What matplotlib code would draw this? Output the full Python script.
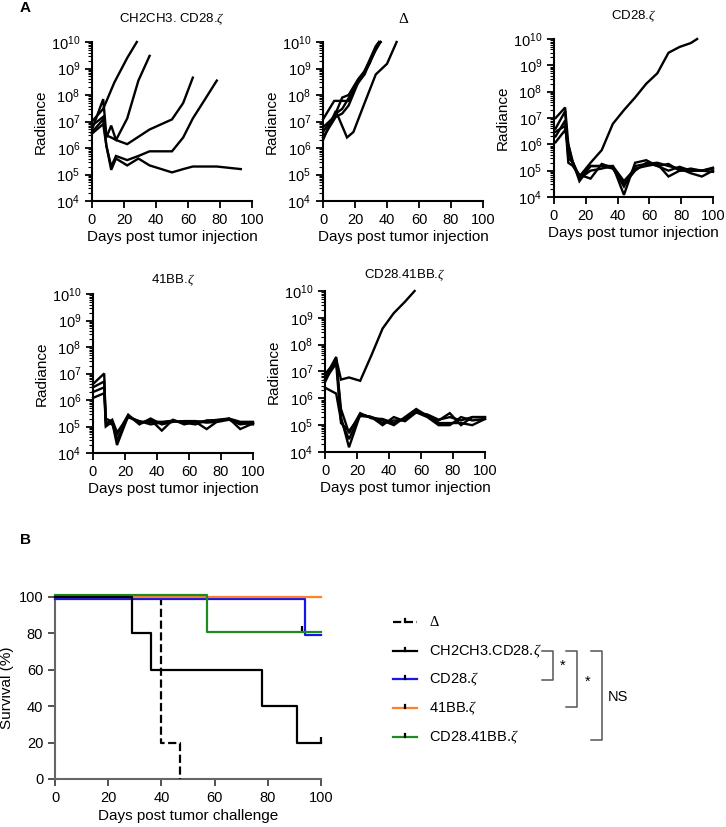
import numpy as np
import matplotlib
matplotlib.use("Agg")
import matplotlib.pyplot as plt
from matplotlib.ticker import NullFormatter

plt.rcParams['font.family'] = ['Liberation Sans', 'DejaVu Sans']
plt.rcParams['mathtext.fontset'] = 'custom'
plt.rcParams['mathtext.rm'] = 'Liberation Sans'
plt.rcParams['mathtext.it'] = 'Liberation Serif:italic'

# ---- panel A data: (days, radiance) per mouse ----
ch2_curves = [
    ([0, 7, 14, 22, 28], [1e7, 3e7, 3e8, 2.5e9, 1e10]),
    ([0, 7, 9, 12, 15, 22, 29, 36], [5e6, 7e7, 3e6, 2.5e6, 2e6, 1.3e7, 3.5e8, 3e9]),
    ([0, 7, 9, 12, 15, 22, 36, 50, 57, 63], [4e6, 1.2e7, 2.5e6, 7e6, 2e6, 1.4e6, 5e6, 1.2e7, 5e7, 4.5e8]),
    ([0, 7, 9, 12, 15, 22, 29, 36, 50, 57, 63, 70, 78],
     [7e6, 1.5e7, 1.2e6, 2e5, 5e5, 3.5e5, 5e5, 7.5e5, 7.5e5, 2.5e6, 1.3e7, 6e7, 3.5e8]),
    ([0, 7, 9, 12, 15, 22, 29, 36, 50, 57, 63, 78, 93],
     [3.5e6, 8e6, 1.2e6, 1.5e5, 4e5, 2.2e5, 4e5, 2.2e5, 1.2e5, 1.6e5, 2e5, 2e5, 1.6e5]),
]

delta_curves = [
    ([0, 7, 12, 16, 20, 26, 33, 35], [1.2e7, 6e7, 6e7, 6e7, 2e8, 8e8, 7e9, 1e10]),
    ([0, 7, 12, 16, 22, 26, 33, 36], [6e6, 1.5e7, 8e7, 1e8, 4e8, 8e8, 5e9, 1e10]),
    ([0, 8, 12, 15, 20, 26, 34, 36], [4e6, 2e7, 3e7, 6e7, 2e8, 6e8, 8e9, 1e10]),
    ([0, 8, 12, 16, 22, 29, 35], [2.5e6, 1.5e7, 2e7, 4e7, 3e8, 1.5e9, 1e10]),
    ([0, 8, 15, 19, 26, 33, 40, 46], [2e6, 2.5e7, 2.5e6, 4e6, 5e7, 6e8, 1.5e9, 1e10]),
]

cd28_days = [1, 7, 9, 12, 16, 23, 30, 37, 44, 51, 58, 65, 72, 79, 86, 93, 100]
cd28_curves = [
    (cd28_days[:15] + [90], [1e7, 2.5e7, 1e6, 2e5, 6e4, 2e5, 6e5, 6e6, 2e7, 6e7, 2e8, 5e8, 3e9, 5e9, 7e9, 1e10]),
    (cd28_days, [4e6, 1.8e7, 3e5, 2e5, 4e4, 1.5e5, 1.5e5, 1.5e5, 1.2e4, 2e5, 2.5e5, 1.5e5, 1.8e5, 1e5, 1e5, 1e5, 1.3e5]),
    (cd28_days, [2e6, 8e6, 2e5, 1.5e5, 7e4, 5e4, 1.8e5, 1.3e5, 2.5e4, 1.5e5, 1.8e5, 2e5, 1.5e5, 1.2e5, 8e4, 6e4, 1e5]),
    (cd28_days, [3e6, 5e6, 5e5, 2e5, 5e4, 1e5, 1.2e5, 1.5e5, 4e4, 1.2e5, 1.5e5, 1.8e5, 6e4, 1e5, 1.2e5, 1e5, 9e4]),
    (cd28_days, [1.2e6, 3.5e6, 1e6, 1.5e5, 6e4, 1.5e5, 1.5e5, 1.2e5, 3e4, 1e5, 2e5, 1.5e5, 1e5, 1.4e5, 1e5, 1e5, 1.2e5]),
]

bb_days = [0, 7, 8, 12, 15, 22, 29, 36, 43, 50, 57, 64, 71, 78, 85, 92, 100]
bb_curves = [
    (bb_days, [4e6, 1e7, 1e5, 1.5e5, 2e4, 2.5e5, 1.3e5, 1.8e5, 7e4, 1.8e5, 1.2e5, 1.5e5, 8e4, 1.6e5, 2e5, 8e4, 1.3e5]),
    (bb_days, [3e6, 5e6, 2e5, 1.5e5, 3e4, 2.5e5, 1.5e5, 1.5e5, 1.5e5, 1.6e5, 1.5e5, 1.5e5, 1.6e5, 1.8e5, 2e5, 1.5e5, 1.5e5]),
    (bb_days, [2e6, 3e6, 1.5e5, 1.2e5, 5e4, 2.8e5, 1.2e5, 2e5, 1.2e5, 1.5e5, 1.6e5, 1.6e5, 1.4e5, 1.5e5, 1.8e5, 1.2e5, 1.4e5]),
    (bb_days, [1.2e6, 1.8e6, 1.2e5, 1.8e5, 6e4, 2.2e5, 1.6e5, 1.2e5, 1.4e5, 1.7e5, 1.4e5, 1.2e5, 1.7e5, 1.7e5, 1.9e5, 1.4e5, 1.2e5]),
]

cdbb_days = [0, 7, 10, 15, 22, 29, 36, 43, 50, 57, 64, 71, 78, 85, 92, 100]
cdbb_curves = [
    ([0, 7, 10, 15, 22, 29, 36, 43, 50, 56], [4e6, 3e7, 5e6, 6e6, 4.5e6, 4e7, 4e8, 1.5e9, 4e9, 1e10]),
    (cdbb_days, [2.5e6, 1.5e6, 1.5e5, 3e4, 2.5e5, 2e5, 1.2e5, 1.5e5, 1.5e5, 3.5e5, 2.2e5, 1.2e5, 1.2e5, 1.2e5, 1e5, 1.7e5]),
    (cdbb_days, [6e6, 3.5e7, 2e5, 1.5e4, 2.5e5, 2e5, 1.5e5, 1e5, 2e5, 4e5, 2.2e5, 1.5e5, 2.8e5, 1e5, 2e5, 2e5]),
    (cdbb_days, [8e6, 2.5e7, 4e5, 5e4, 2.8e5, 1.8e5, 1.7e5, 1.2e5, 1.8e5, 3e5, 2.5e5, 1.6e5, 2e5, 1.5e5, 2e5, 2e5]),
    (cdbb_days, [5e6, 2e7, 1.2e5, 6e4, 2.2e5, 2e5, 1e5, 2e5, 1.4e5, 3e5, 2e5, 1e5, 1e5, 2e5, 1.5e5, 1.7e5]),
]

# ---- panel B data: Kaplan-Meier steps ----
surv_names = ['Δ', 'CH2CH3.CD28.$\\zeta$', 'CD28.$\\zeta$', '41BB.$\\zeta$', 'CD28.41BB.$\\zeta$']
surv_t = [[0, 40, 47], [0, 29, 36, 78, 91, 100], [0, 94, 100], [0, 100], [0, 57, 100]]
surv_s = [[100, 20, 0], [100, 80, 60, 40, 20, 20], [100, 80, 80], [100, 100], [100, 80, 80]]
censor_t = [[], [100], [], [], [93]]
censor_s = [[], [20], [], [], [80]]

surv_colors = ['black', 'black', '#1515f0', '#ff7f2a', '#1f8a1f']
surv_styles = ['--', '-', '-', '-', '-']
surv_nudge = [0, 0, -1, 0, 1]

fig = plt.figure(figsize=(7.26, 8.27), dpi=100)
W, H = 726, 827

major_y = [1e4, 1e5, 1e6, 1e7, 1e8, 1e9, 1e10]
minor_y = [m * 10.0 ** e for e in range(4, 10) for m in range(2, 10)]


def px_axes(l, t, r, b):
    return fig.add_axes([l / W, 1 - b / H, (r - l) / W, (b - t) / H])


def style_a(ax, title, pad, tfam=None):
    ax.set_yscale('log')
    ax.set_ylim(1e4, 1e10)
    ax.set_xlim(0, 100)
    ax.set_xticks([0, 20, 40, 60, 80, 100])
    ax.set_yticks(major_y)
    ax.set_yticks(minor_y, minor=True)
    ax.yaxis.set_minor_formatter(NullFormatter())
    for s in ['top', 'right']:
        ax.spines[s].set_visible(False)
    for s in ['left', 'bottom']:
        ax.spines[s].set_linewidth(1.5)
    ax.tick_params(which='major', length=5, width=1.3, labelsize=10.5, direction='out')
    ax.tick_params(axis='y', which='minor', length=3, width=0.8, left=True)
    ax.set_ylabel('Radiance', fontsize=11, labelpad=2)
    ax.set_xlabel('Days post tumor injection', fontsize=11, labelpad=2)
    if tfam:
        ax.set_title(title, fontsize=11, pad=pad, family=tfam)
    else:
        ax.set_title(title, fontsize=9.5, pad=pad)


panels = [
    ((92, 42, 252, 201), ch2_curves, 'CH2CH3. CD28.$\\zeta$', 14, None),
    ((323, 42, 483, 201), delta_curves, 'Δ', 14, 'Liberation Serif'),
    ((554, 39, 713, 197), cd28_curves, 'CD28.$\\zeta$', 14, None),
    ((93, 294, 253, 453), bb_curves, '41BB.$\\zeta$', 8, None),
    ((325, 291, 485, 452), cdbb_curves, 'CD28.41BB.$\\zeta$', 9, None),
]
for box, curves, title, pad, tfam in panels:
    ax = px_axes(*box)
    for d, v in curves:
        ax.plot(d, v, color='black', lw=1.7, solid_joinstyle='miter', clip_on=False)
    style_a(ax, title, pad, tfam)

# ---- panel B ----
axb = px_axes(55, 597, 321, 779)
for i in range(len(surv_t)):
    ys = np.array(surv_s[i]) + surv_nudge[i]
    axb.step(surv_t[i], ys, where='post', color=surv_colors[i], ls=surv_styles[i],
             lw=1.6, clip_on=False, zorder=3 + (i == 1))
    if censor_t[i]:
        axb.plot(censor_t[i], np.array(censor_s[i]) + surv_nudge[i] + 1.5, ls='none',
                 marker='|', ms=5, mew=1.6, color='black', clip_on=False)
axb.set_xlim(0, 100)
axb.set_ylim(0, 100)
axb.set_xticks([0, 20, 40, 60, 80, 100])
axb.set_yticks([0, 20, 40, 60, 80, 100])
for s in ['top', 'right']:
    axb.spines[s].set_visible(False)
for s in ['left', 'bottom']:
    axb.spines[s].set_linewidth(1.5)
    axb.spines[s].set_color('#666666')
axb.tick_params(length=5, width=1.3, color='#444444', labelsize=10.5)
axb.set_ylabel('Survival (%)', fontsize=11, labelpad=3)
axb.set_xlabel('Days post tumor challenge', fontsize=11, labelpad=3)

# ---- overlay for legend, brackets and panel letters ----
ov = fig.add_axes([0, 0, 1, 1])
ov.set_xlim(0, W)
ov.set_ylim(H, 0)
ov.axis('off')
ov.text(20, 8, 'A', fontsize=11, fontweight='bold', va='center')
ov.text(20, 540, 'B', fontsize=11, fontweight='bold', va='center')

leg_y = [622, 651, 679, 708, 737]
for i, yy in enumerate(leg_y):
    ov.plot([393, 417], [yy, yy], color=surv_colors[i], ls=surv_styles[i], lw=1.6)
    ov.plot([405, 405], [yy, yy - 3.5], color='black', lw=1.6)
    fam = 'Liberation Serif' if i == 0 else None
    ov.text(429, yy, surv_names[i], fontsize=10.5, va='center', family=fam)

bc = '#555555'
brackets = [(542, 553, 651, 680, '*', 560, 666),
            (566, 577, 651, 707, '*', 585, 682),
            (591, 602, 651, 740, 'NS', 608, 697)]
for x0, x1, y0, y1, lab, tx, ty in brackets:
    ov.plot([x0, x1, x1, x0], [y0, y0, y1, y1], color=bc, lw=1.1)
    ov.text(tx, ty, lab, fontsize=10.5, va='center', ha='left')

fig.savefig('out.png', dpi=100)
